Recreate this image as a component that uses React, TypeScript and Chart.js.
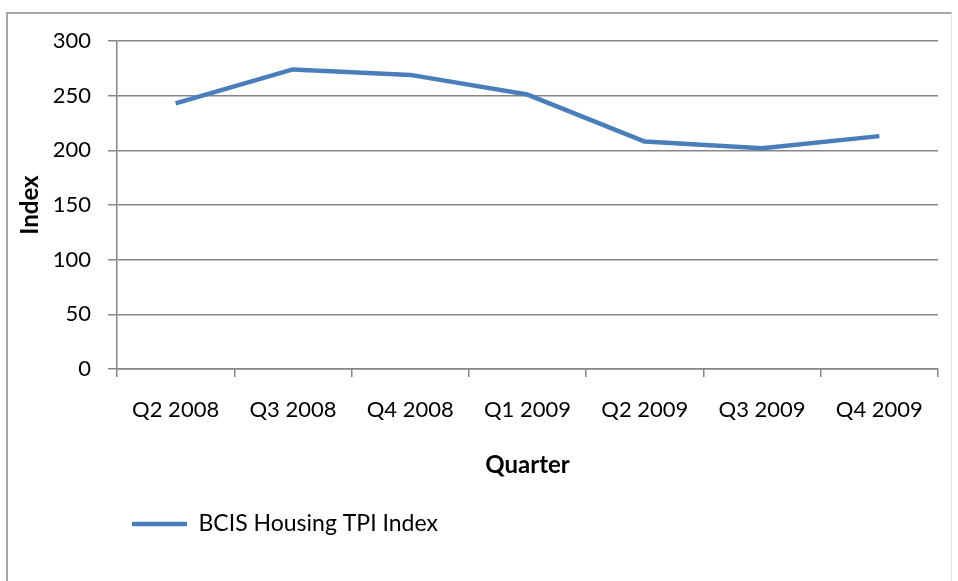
import React, { useEffect, useRef } from "react";
import { Chart, registerables } from "chart.js";

Chart.register(...registerables);

const categories = ["Q2 2008", "Q3 2008", "Q4 2008", "Q1 2009", "Q2 2009", "Q3 2009", "Q4 2009"];
const seriesLabel = "BCIS Housing TPI Index";
const seriesValues = [243, 274, 269, 251, 208, 202, 213];
const yTicks = [0, 50, 100, 150, 200, 250, 300];
const yTitle = "Index";
const xTitle = "Quarter";

const FONT = "Lato, 'Open Sans', sans-serif";
const LINE_COLOR = "#4A7EBB";
const GRID_COLOR = "#868686";

export default function App() {
  const canvasRef = useRef<HTMLCanvasElement | null>(null);

  useEffect(() => {
    const canvas = canvasRef.current;
    if (!canvas) return;
    const chart = new Chart(canvas, {
      type: "line",
      data: {
        labels: categories,
        datasets: [
          {
            label: seriesLabel,
            data: seriesValues,
            borderColor: LINE_COLOR,
            backgroundColor: LINE_COLOR,
            borderWidth: 4.5,
            pointRadius: 0,
            pointHoverRadius: 0,
            tension: 0,
            fill: false,
            borderJoinStyle: "round",
          },
        ],
      },
      options: {
        responsive: false,
        animation: false,
        devicePixelRatio: 1,
        layout: { padding: { left: 0, right: 20, top: 41, bottom: 35.5 } },
        plugins: {
          tooltip: { enabled: false },
          legend: {
            display: true,
            position: "bottom",
            align: "start",
            fullSize: false,
            labels: {
              usePointStyle: true,
              pointStyle: "line",
              pointStyleWidth: 55,
              padding: 15,
              color: "#000",
              font: { family: FONT, size: 23 },
            },
          },
        },
        scales: {
          x: {
            type: "category",
            offset: true,
            grid: {
              display: true,
              offset: true,
              drawOnChartArea: false,
              drawTicks: true,
              tickLength: 8,
              color: GRID_COLOR,
              lineWidth: 1.5,
            },
            border: { display: true, color: GRID_COLOR, width: 1.5 },
            ticks: {
              color: "#000",
              padding: 20,
              maxRotation: 0,
              autoSkip: false,
              font: { family: FONT, size: 22 },
            },
            title: {
              display: true,
              text: xTitle,
              color: "#000",
              padding: { top: 0, bottom: 18 },
              font: { family: FONT, size: 24, weight: "bold" },
            },
            afterFit: (s: any) => {
              s.height = 128.5;
            },
          },
          y: {
            min: 0,
            max: 300,
            afterBuildTicks: (s: any) => {
              s.ticks = yTicks.map((v) => ({ value: v }));
            },
            grid: {
              display: true,
              drawTicks: true,
              tickLength: 9,
              color: GRID_COLOR,
              lineWidth: 1.5,
            },
            border: { display: true, color: GRID_COLOR, width: 1.5 },
            ticks: {
              color: "#000",
              padding: 17,
              font: { family: FONT, size: 22 },
            },
            title: {
              display: true,
              text: yTitle,
              color: "#000",
              padding: { top: 16, bottom: 0 },
              font: { family: FONT, size: 24, weight: "bold" },
            },
            afterFit: (s: any) => {
              s.width = 117;
            },
          },
        },
      },
    });
    return () => chart.destroy();
  }, []);

  return (
    <div
      style={{
        position: "fixed",
        left: 0,
        top: 0,
        width: 958,
        height: 581,
        background: "#fff",
        overflow: "hidden",
      }}
    >
      <div
        style={{
          position: "absolute",
          left: 6,
          top: 12,
          width: 946,
          height: 600,
          borderTop: "2px solid #a6a6a6",
          borderLeft: "2px solid #a6a6a6",
          borderRight: "1px solid #e6e6e6",
          boxSizing: "border-box",
        }}
      />
      <canvas
        ref={canvasRef}
        width={958}
        height={581}
        style={{ position: "absolute", left: 0, top: 0, width: 958, height: 581 }}
      />
    </div>
  );
}
